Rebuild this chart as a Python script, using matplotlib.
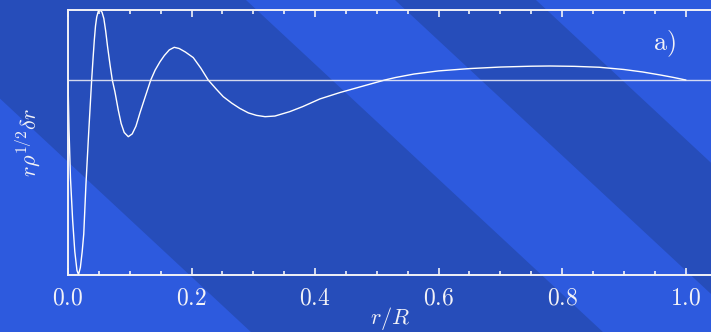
import numpy as np
import matplotlib
matplotlib.use("Agg")
import matplotlib.pyplot as plt
from matplotlib.ticker import MultipleLocator

plt.rcParams.update({
    "mathtext.fontset": "cm",
    "font.family": "serif",
    "font.serif": ["DejaVu Serif"],
})

# ── Data ──────────────────────────────────────────────────────────────────────
r_over_R = [0.0, 0.0016, 0.0040, 0.0075, 0.0110, 0.0145, 0.0170, 0.0200,
            0.0230, 0.0255, 0.0290, 0.0335, 0.0383,
            0.0405, 0.0426, 0.0445, 0.0465, 0.0490, 0.0518, 0.0550, 0.0580,
            0.0610, 0.0640, 0.0680, 0.0717,
            0.0760, 0.0814, 0.0860, 0.0910, 0.0976, 0.1040, 0.1100, 0.1165,
            0.1250, 0.1340,
            0.1410, 0.1489, 0.1560, 0.1640, 0.1720, 0.1800, 0.1900, 0.2028,
            0.2150, 0.2270,
            0.2400, 0.2513, 0.2650, 0.2780, 0.2920, 0.3050, 0.3190, 0.3350,
            0.3590, 0.3800, 0.4080, 0.4240, 0.4400, 0.4780, 0.5130,
            0.5300, 0.5600, 0.6000, 0.6500, 0.7000, 0.7500, 0.7800, 0.8200,
            0.8600, 0.9000, 0.9300, 0.9600, 0.9800, 1.0000]
r_rho_dr = [0.0, -0.70, -1.40, -2.00, -2.45, -2.72, -2.78, -2.68,
            -2.45, -2.20, -1.50, -0.75, 0.0,
            0.30, 0.57, 0.77, 0.90, 0.98, 1.00, 0.97, 0.88,
            0.70, 0.48, 0.22, 0.0,
            -0.17, -0.43, -0.62, -0.75, -0.81, -0.77, -0.66, -0.47,
            -0.24, 0.0,
            0.14, 0.26, 0.35, 0.43, 0.467, 0.45, 0.40, 0.32,
            0.17, 0.0,
            -0.13, -0.238, -0.33, -0.405, -0.47, -0.505, -0.524, -0.515,
            -0.452, -0.38, -0.27, -0.225, -0.18, -0.086, 0.0,
            0.035, 0.085, 0.130, 0.163, 0.185, 0.197, 0.200, 0.195,
            0.182, 0.150, 0.115, 0.070, 0.037, 0.0]

x_ticks = [0.0, 0.2, 0.4, 0.6, 0.8, 1.0]
x_ticklabels = [f"${t:.1f}$" for t in x_ticks]

# background stripes: x position (px) of each band edge at the top of the image
light_bands = [(-800, -106), (246, 395), (536, 1200)]

# ── Style ─────────────────────────────────────────────────────────────────────
DARK = "#264dba"
LIGHT = "#2d5ade"
INK = "#f2f2f7"
W, H = 711, 332
SLOPE = 1.075   # px of x per px of y for the stripe edges

fig = plt.figure(figsize=(W / 100, H / 100), dpi=100, facecolor=DARK)

# stripes behind everything
bg = fig.add_axes([0, 0, 1, 1], zorder=0)
bg.set_xlim(0, W)
bg.set_ylim(H, 0)
bg.axis("off")
for c0, c1 in light_bands:
    bg.fill([c0, c1, c1 + H * SLOPE, c0 + H * SLOPE], [0, 0, H, H],
            color=LIGHT, lw=0)

ax = fig.add_axes([68 / W, 57 / H, 1 - 68 / W, 265 / H], zorder=1)
ax.set_facecolor("none")

ax.plot(r_over_R, r_rho_dr, color="white", lw=1.0)
ax.axhline(0, color=INK, lw=1.0, alpha=0.85)

ax.set_xlim(0, 1.041)
ax.set_ylim(-2.786, 1.0)

for side in ["left", "bottom", "top"]:
    ax.spines[side].set_color(INK)
    ax.spines[side].set_linewidth(1.4)
ax.spines["right"].set_visible(False)

ax.set_xticks(x_ticks)
ax.set_xticklabels(x_ticklabels, fontsize=17, color=INK)
ax.xaxis.set_minor_locator(MultipleLocator(0.05))
ax.tick_params(axis="x", which="both", direction="in", top=True, bottom=True,
               color=INK, width=1.2, pad=8)
ax.tick_params(axis="x", which="major", length=5)
ax.tick_params(axis="x", which="minor", length=3)
ax.set_yticks([])

ax.set_xlabel(r"$r/R$", fontsize=16, color=INK, va="center")
ax.xaxis.set_label_coords(0.5, -0.165)
ax.set_ylabel(r"$r\rho^{1/2}\delta r$", fontsize=16, color=INK, labelpad=18)

ax.text(0.928, 0.872, r"$\mathrm{a)}$", transform=ax.transAxes, fontsize=19,
        color=INK, ha="center", va="center")

fig.savefig("out.png", dpi=100, facecolor=DARK)
